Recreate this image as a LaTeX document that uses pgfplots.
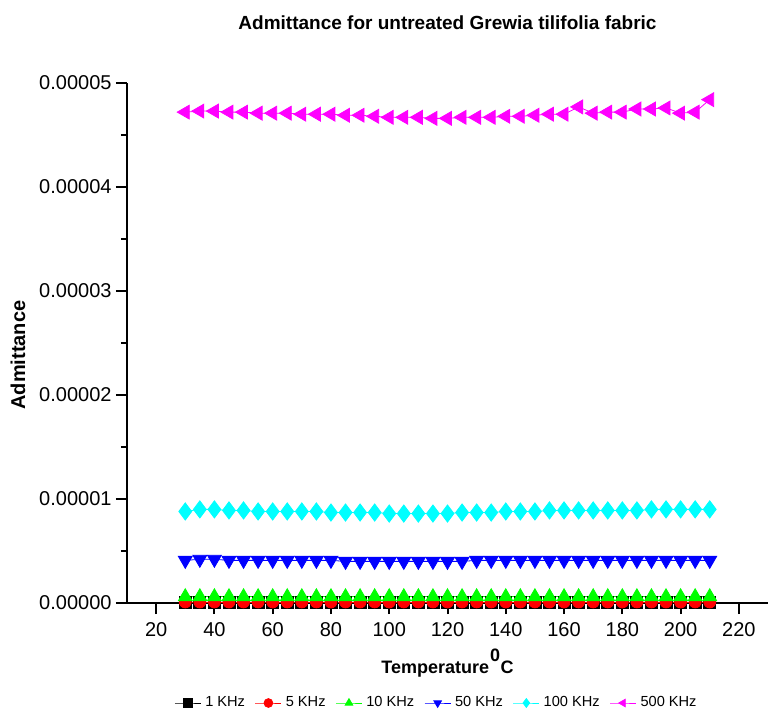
\documentclass[border=0pt]{standalone}
\usepackage{fontspec}
\setmainfont{Liberation Sans}
\usepackage{pgfplots}
\pgfplotsset{compat=1.18}
\usepackage{pgfplotstable}
\definecolor{cMag}{RGB}{255,0,255}
\definecolor{cCyan}{RGB}{0,255,255}
\definecolor{cBlue}{RGB}{0,0,255}
\definecolor{cGreen}{RGB}{0,255,0}
\definecolor{cRed}{RGB}{255,0,0}

\pgfplotstableread{
x y1 y5 y10 y50 y100 y500
30  0.005e-5 0.01e-5 0.06e-5 0.41e-5 0.88e-5 4.72e-5
35  0.005e-5 0.01e-5 0.06e-5 0.42e-5 0.90e-5 4.73e-5
40  0.005e-5 0.01e-5 0.06e-5 0.42e-5 0.90e-5 4.73e-5
45  0.005e-5 0.01e-5 0.06e-5 0.41e-5 0.89e-5 4.72e-5
50  0.005e-5 0.01e-5 0.06e-5 0.41e-5 0.89e-5 4.72e-5
55  0.005e-5 0.01e-5 0.06e-5 0.41e-5 0.88e-5 4.71e-5
60  0.005e-5 0.01e-5 0.06e-5 0.41e-5 0.88e-5 4.71e-5
65  0.005e-5 0.01e-5 0.06e-5 0.41e-5 0.88e-5 4.71e-5
70  0.005e-5 0.01e-5 0.06e-5 0.41e-5 0.88e-5 4.70e-5
75  0.005e-5 0.01e-5 0.06e-5 0.41e-5 0.88e-5 4.70e-5
80  0.005e-5 0.01e-5 0.06e-5 0.41e-5 0.87e-5 4.70e-5
85  0.005e-5 0.01e-5 0.06e-5 0.40e-5 0.87e-5 4.69e-5
90  0.005e-5 0.01e-5 0.06e-5 0.40e-5 0.87e-5 4.69e-5
95  0.005e-5 0.01e-5 0.06e-5 0.40e-5 0.87e-5 4.68e-5
100 0.005e-5 0.01e-5 0.06e-5 0.40e-5 0.86e-5 4.67e-5
105 0.005e-5 0.01e-5 0.06e-5 0.40e-5 0.86e-5 4.67e-5
110 0.005e-5 0.01e-5 0.06e-5 0.40e-5 0.86e-5 4.67e-5
115 0.005e-5 0.01e-5 0.06e-5 0.40e-5 0.86e-5 4.66e-5
120 0.005e-5 0.01e-5 0.06e-5 0.40e-5 0.86e-5 4.66e-5
125 0.005e-5 0.01e-5 0.06e-5 0.40e-5 0.87e-5 4.67e-5
130 0.005e-5 0.01e-5 0.06e-5 0.41e-5 0.87e-5 4.67e-5
135 0.005e-5 0.01e-5 0.06e-5 0.41e-5 0.87e-5 4.67e-5
140 0.005e-5 0.01e-5 0.06e-5 0.41e-5 0.88e-5 4.68e-5
145 0.005e-5 0.01e-5 0.06e-5 0.41e-5 0.88e-5 4.68e-5
150 0.005e-5 0.01e-5 0.06e-5 0.41e-5 0.88e-5 4.69e-5
155 0.005e-5 0.01e-5 0.06e-5 0.41e-5 0.89e-5 4.70e-5
160 0.005e-5 0.01e-5 0.06e-5 0.41e-5 0.89e-5 4.70e-5
165 0.005e-5 0.01e-5 0.06e-5 0.41e-5 0.89e-5 4.77e-5
170 0.005e-5 0.01e-5 0.06e-5 0.41e-5 0.89e-5 4.71e-5
175 0.005e-5 0.01e-5 0.06e-5 0.41e-5 0.89e-5 4.72e-5
180 0.005e-5 0.01e-5 0.06e-5 0.41e-5 0.89e-5 4.72e-5
185 0.005e-5 0.01e-5 0.06e-5 0.41e-5 0.89e-5 4.75e-5
190 0.005e-5 0.01e-5 0.06e-5 0.41e-5 0.90e-5 4.75e-5
195 0.005e-5 0.01e-5 0.06e-5 0.41e-5 0.90e-5 4.76e-5
200 0.005e-5 0.01e-5 0.06e-5 0.41e-5 0.90e-5 4.71e-5
205 0.005e-5 0.01e-5 0.06e-5 0.41e-5 0.90e-5 4.72e-5
210 0.005e-5 0.01e-5 0.06e-5 0.41e-5 0.90e-5 4.84e-5
}\datatable

\begin{document}
\begin{tikzpicture}
\begin{axis}[
  name=ax,
  scale only axis,
  width=320.5pt, height=260pt,
  xmin=10, xmax=230,
  ymin=0, ymax=5e-5,
  axis lines=left,
  axis line style={-, line width=1pt, black},
  xtick={20,40,...,220},
  ytick={0,1e-5,2e-5,3e-5,4e-5,5e-5},
  minor x tick num=1,
  minor y tick num=1,
  tick align=outside,
  major tick length=5.5pt,
  minor tick length=3pt,
  every tick/.style={black, line width=1pt},
  scaled y ticks=false,
  /pgf/number format/assume math mode=true,
  yticklabel={\pgfmathprintnumber[fixed,precision=5,zerofill]{\tick}},
  ticklabel style={font=\fontsize{10}{12}\selectfont},
  yticklabel style={xshift=1.3pt},
  xticklabel style={yshift=-0.5pt},
  title={Admittance for untreated Grewia tilifolia fabric},
  title style={at={([yshift=21pt]axis description cs:0.5,1)}, anchor=base, font=\fontsize{9.5}{11}\selectfont\bfseries},
  xlabel={Temperature\kern0.5pt\raisebox{0.66em}{\fontsize{9}{10}\selectfont 0}\kern0.3pt C},
  xlabel style={at={([yshift=-35pt]axis description cs:0.5,0)}, anchor=base, font=\fontsize{9}{11}\selectfont\bfseries},
  ylabel={Admittance},
  ylabel style={at={([xshift=-54.5pt,yshift=-6pt]axis description cs:0,0.5)}, anchor=center, font=\fontsize{10}{12}\selectfont\bfseries},
  legend columns=6,
  legend style={draw=none, fill=none, at={([xshift=-5pt,yshift=-50pt]axis description cs:0.5,0)}, anchor=center,
    font=\fontsize{7.3}{8.5}\selectfont,
    /tikz/every even column/.append style={column sep=3pt},
    inner sep=0pt},
  legend image code/.code={\draw[mark repeat=2,mark phase=2,mark size=2.2pt] plot coordinates {(0pt,0pt)(6.5pt,0pt)(13pt,0pt)};},
]
\addplot[black, line width=0.4pt, mark=square*, mark size=3pt, mark options={solid, fill=black}] table[x=x,y=y1] {\datatable};
\addlegendentry{1 KHz}
\addplot[cRed, line width=0.4pt, mark=*, mark size=3pt, mark options={solid, fill=cRed}] table[x=x,y=y5] {\datatable};
\addlegendentry{5 KHz}
\addplot[cGreen, line width=0.4pt, mark=triangle*, mark size=4pt, mark options={solid, fill=cGreen}] table[x=x,y=y10] {\datatable};
\addlegendentry{10 KHz}
\addplot[cBlue, line width=0.4pt, mark=triangle*, mark size=4pt, mark options={solid, fill=cBlue, rotate=180}] table[x=x,y=y50] {\datatable};
\addlegendentry{50 KHz}
\addplot[cCyan, line width=0.4pt, mark=diamond*, mark size=4.3pt, mark options={solid, fill=cCyan}] table[x=x,y=y100] {\datatable};
\addlegendentry{100 KHz}
\addplot[cMag, line width=0.4pt, mark=triangle*, mark size=4pt, mark options={solid, fill=cMag, rotate=90}] table[x=x,y=y500] {\datatable};
\addlegendentry{500 KHz}
\end{axis}
\path ([xshift=-63.5pt,yshift=-56.5pt]ax.south west) rectangle ([xshift=1pt,yshift=41.5pt]ax.north east);
\end{tikzpicture}
\end{document}
